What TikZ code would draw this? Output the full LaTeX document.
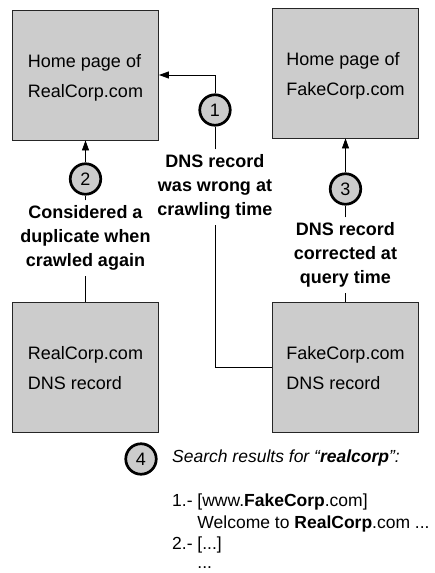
\documentclass[tikz,border=0pt]{standalone}
\usepackage{fontspec}
\setmainfont{Liberation Sans}
\usetikzlibrary{arrows.meta}
\definecolor{boxgray}{HTML}{CCCCCC}
\newcommand\boxstrutA{\rule[-5pt]{0pt}{24pt}}
\newcommand\boxstrut{\rule[-5pt]{0pt}{18pt}}
\newcommand\lblstrut{\rule[-4pt]{0pt}{14pt}}
\begin{document}
\begin{tikzpicture}[x=1pt,y=-1pt,
  box/.style={draw=black!85, fill=boxgray, line width=0.8pt, minimum width=146pt, minimum height=130pt, inner sep=0pt, align=left, font=\fontsize{18}{30}\selectfont},
  num/.style={circle, draw=black, line width=2.7pt, fill=boxgray, minimum size=30.5pt, inner sep=0pt, font=\fontsize{18}{18}\selectfont},
  lbl/.style={align=center, inner xsep=2pt, inner ysep=5pt, font=\bfseries\fontsize{18}{24}\selectfont},
  res/.style={anchor=base west, inner sep=0pt, font=\fontsize{17.5}{17.5}\selectfont},
  conn/.style={line width=0.8pt},
  arr/.style={conn, -{Triangle[length=10pt,width=7pt]}}
]
\useasboundingbox (0,0) rectangle (435,573);
% boxes
\node[box] (hr) at (85.5,75) {\boxstrutA Home page of\\\boxstrut RealCorp.com};
\node[box] (hf) at (345.5,73) {\boxstrutA Home page of\\\boxstrut FakeCorp.com};
\node[box] (dr) at (85.5,367.5) {\boxstrutA RealCorp.com\\\boxstrut DNS record};
\node[box] (df) at (345.5,367) {\boxstrutA FakeCorp.com\\\boxstrut DNS record};
% circles
\node[num] (c1) at (215,110) {1};
\node[num] (c2) at (85.5,179) {2};
\node[num] (c3) at (345.5,189) {3};
\node[num] (c4) at (141,459) {4};
% labels
\node[lbl] (l1) at (215,187) {\lblstrut DNS record\\\lblstrut was wrong at\\\lblstrut crawling time};
\node[lbl] (l2) at (85.5,238) {\lblstrut Considered a\\\lblstrut duplicate when\\\lblstrut crawled again};
\node[lbl] (l3) at (345.5,255) {\lblstrut DNS record\\\lblstrut corrected at\\\lblstrut query time};
% connectors
\draw[conn] (df.west) -| (l1.south);
\draw[conn] (l1.north) -- (c1.south);
\draw[arr] (c1.north) |- (hr.east);
\draw[conn] (dr.north) -- (l2.south);
\draw[conn] (l2.north) -- (c2.south);
\draw[arr] (c2.north) -- (hr.south);
\draw[conn] (df.north) -- (l3.south);
\draw[conn] (l3.north) -- (c3.south);
\draw[arr] (c3.north) -- (hf.south);
% search results
\node[res, font=\itshape\fontsize{17.5}{17.5}\selectfont] (q) at (172,462) {Search results for “\textbf{realcorp}”:};
\node[res] (r1) at (172,506) {1.- [www.\textbf{FakeCorp}.com]};
\node[res] (r2) at (172,528) {\phantom{1.- }Welcome to \textbf{RealCorp}.com ...};
\node[res] (r3) at (172,549.5) {2.- [...]};
\node[res] (r4) at (172,568.5) {\phantom{1.- }...};
\end{tikzpicture}
\end{document}
